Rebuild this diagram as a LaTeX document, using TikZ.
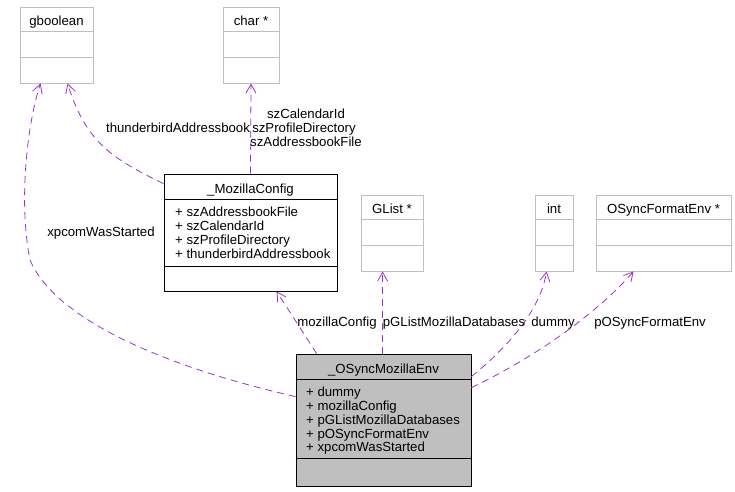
\documentclass[tikz,border=0pt]{standalone}
\usepackage{fontspec}
\setmainfont{Liberation Sans}
\usetikzlibrary{arrows.meta}
\definecolor{boxgray}{HTML}{BFBFBF}
\definecolor{edgepurple}{HTML}{9A32CD}
\begin{document}
\begin{tikzpicture}[x=1pt,y=-1pt,
  every node/.style={font=\fontsize{13.2}{14}\selectfont, inner sep=0pt},
  lightbox/.style={draw=boxgray, line width=0.8pt, rectangle},
  darkbox/.style={draw=black, line width=0.8pt, rectangle},
  envbox/.style={draw=black, fill=boxgray, line width=0.8pt, rectangle},
  lightdiv/.style={draw=boxgray, line width=0.8pt},
  darkdiv/.style={draw=black, line width=0.8pt},
  uses/.style={draw=edgepurple, line width=0.8pt, dash pattern=on 7pt off 5pt, -{Straight Barb[length=9pt,width=10pt]}},
  lbl/.style={anchor=base},
  attr/.style={anchor=base west}]
\useasboundingbox (0,0) rectangle (735,491);
% gboolean
\node[lightbox, minimum width=73pt, minimum height=76pt] (gb) at (56.5,45) {};
\node[lbl] (gbt) at (56.5,25) {gboolean};
\draw[lightdiv] ([yshift=-25pt]gb.north west) -- ([yshift=-25pt]gb.north east);
\draw[lightdiv] ([yshift=-51pt]gb.north west) -- ([yshift=-51pt]gb.north east);
% char *
\node[lightbox, minimum width=56pt, minimum height=76pt] (ch) at (251,45) {};
\node[lbl] (cht) at (251,25) {char *};
\draw[lightdiv] ([yshift=-25pt]ch.north west) -- ([yshift=-25pt]ch.north east);
\draw[lightdiv] ([yshift=-51pt]ch.north west) -- ([yshift=-51pt]ch.north east);
% GList *
\node[lightbox, minimum width=62pt, minimum height=76pt] (gl) at (392,233) {};
\node[lbl] (glt) at (392,213) {GList *};
\draw[lightdiv] ([yshift=-25pt]gl.north west) -- ([yshift=-25pt]gl.north east);
\draw[lightdiv] ([yshift=-51pt]gl.north west) -- ([yshift=-51pt]gl.north east);
% int
\node[lightbox, minimum width=38pt, minimum height=76pt] (in) at (554,233) {};
\node[lbl] (int) at (554,213) {int};
\draw[lightdiv] ([yshift=-25pt]in.north west) -- ([yshift=-25pt]in.north east);
\draw[lightdiv] ([yshift=-51pt]in.north west) -- ([yshift=-51pt]in.north east);
% OSyncFormatEnv *
\node[lightbox, minimum width=135pt, minimum height=76pt] (of) at (663.5,233) {};
\node[lbl] (oft) at (663.5,213) {OSyncFormatEnv *};
\draw[lightdiv] ([yshift=-25pt]of.north west) -- ([yshift=-25pt]of.north east);
\draw[lightdiv] ([yshift=-51pt]of.north west) -- ([yshift=-51pt]of.north east);
% _MozillaConfig
\node[darkbox, minimum width=173pt, minimum height=117pt] (mc) at (250.5,232.5) {};
\node[lbl] (mct) at (250.5,193) {\_MozillaConfig};
\draw[darkdiv] ([yshift=-26pt]mc.north west) -- ([yshift=-26pt]mc.north east);
\draw[darkdiv] ([yshift=-93pt]mc.north west) -- ([yshift=-93pt]mc.north east);
\node[attr] (mca1) at (175,216.5) {+ szAddressbookFile};
\node[attr] (mca2) at (175,230.5) {+ szCalendarId};
\node[attr] (mca3) at (175,244.5) {+ szProfileDirectory};
\node[attr] (mca4) at (175,258.5) {+ thunderbirdAddressbook};
% _OSyncMozillaEnv
\node[envbox, minimum width=175pt, minimum height=132pt] (env) at (383.5,420) {};
\node[lbl] (envt) at (383.5,373) {\_OSyncMozillaEnv};
\draw[darkdiv] ([yshift=-26pt]env.north west) -- ([yshift=-26pt]env.north east);
\draw[darkdiv] ([yshift=-105pt]env.north west) -- ([yshift=-105pt]env.north east);
\node[attr] (ea1) at (306,396.7) {+ dummy};
\node[attr] (ea2) at (306,410.5) {+ mozillaConfig};
\node[attr] (ea3) at (306,424.2) {+ pGListMozillaDatabases};
\node[attr] (ea4) at (306,438) {+ pOSyncFormatEnv};
\node[attr] (ea5) at (306,451.7) {+ xpcomWasStarted};
% edges
\draw[uses] ([yshift=-43pt]env.north west) .. controls (200,375) and (60,330) .. (30,260) .. controls (18,200) and (28,120) .. ([xshift=21pt]gb.south west);
\draw[uses] ([yshift=-10pt]mc.north west) .. controls (110,158) and (85,140) .. ([xshift=48pt]gb.south west);
\draw[uses] (mc.north) -- (ch.south);
\draw[uses] ([xshift=21pt]env.north west) -- ([xshift=113pt]mc.south west);
\draw[uses] ([xshift=87pt]env.north west) -- ([xshift=22pt]gl.south west);
\draw[uses] ([yshift=-23pt]env.north east) .. controls (510,345) and (540,310) .. ([xshift=12pt]in.south west);
\draw[uses] ([yshift=-34pt]env.north east) .. controls (540,355) and (600,310) .. ([xshift=38pt]of.south west);
% labels
\node[lbl] (l1) at (101,236.7) {xpcomWasStarted};
\node[lbl] (l2) at (178,132) {thunderbirdAddressbook};
\node[lbl] (l3) at (306,118) {szCalendarId};
\node[lbl] (l4) at (304,132) {szProfileDirectory};
\node[lbl] (l5) at (306,146) {szAddressbookFile};
\node[lbl] (l6) at (337,326.7) {mozillaConfig};
\node[lbl] (l7) at (454,326.7) {pGListMozillaDatabases};
\node[lbl] (l8) at (553,326.7) {dummy};
\node[lbl] (l9) at (650,326.7) {pOSyncFormatEnv};
\end{tikzpicture}
\end{document}
